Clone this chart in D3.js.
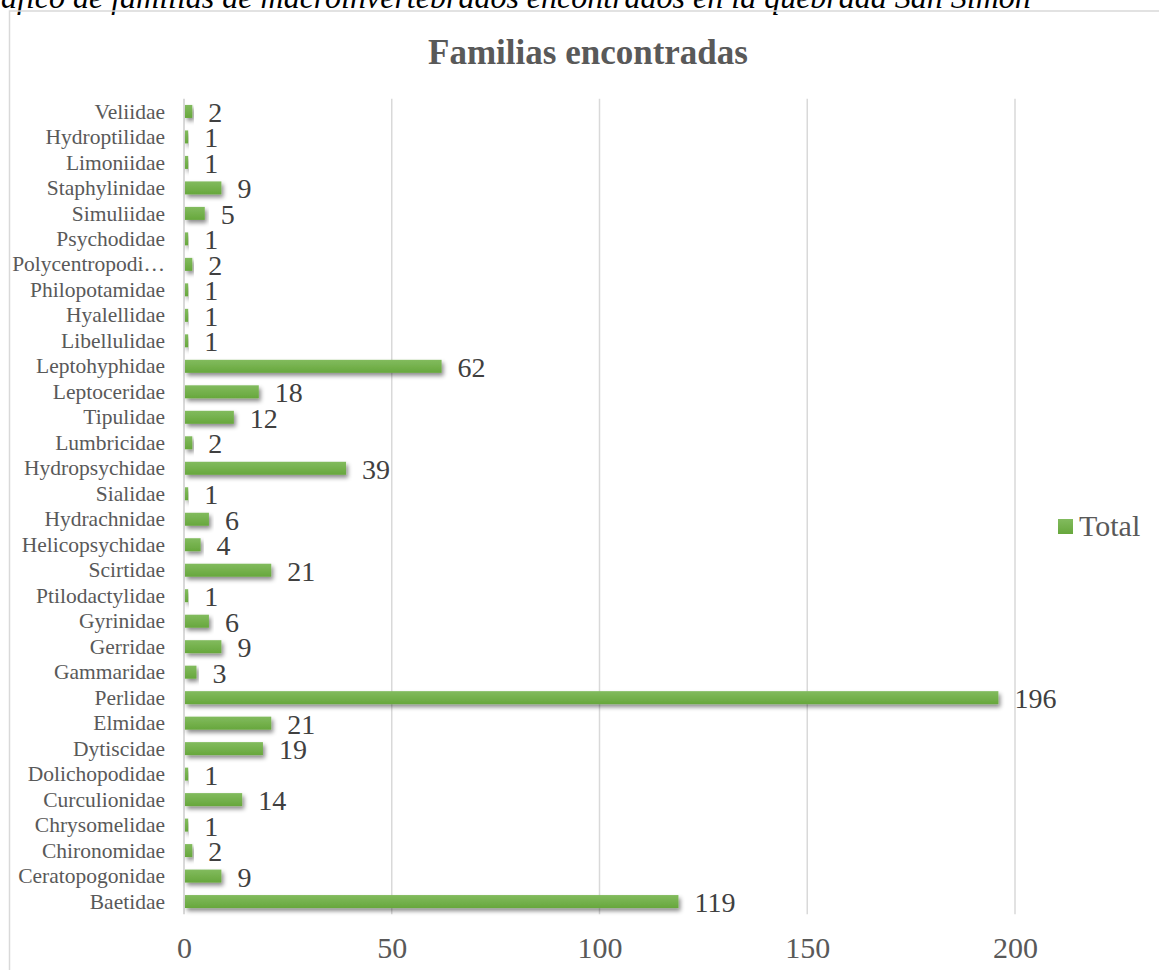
<!DOCTYPE html>
<html>
<head>
<meta charset="utf-8">
<script src="https://cdn.jsdelivr.net/npm/d3@7"></script>
<style>
  body { margin: 0; background: #fff; }
  svg { display: block; font-family: "Liberation Serif", "Times New Roman", serif; }
</style>
</head>
<body>
<div id="chart"></div>
<script>
// families, top to bottom as drawn
var families = ["Veliidae", "Hydroptilidae", "Limoniidae", "Staphylinidae", "Simuliidae",
    "Psychodidae", "Polycentropodi\u2026", "Philopotamidae", "Hyalellidae", "Libellulidae",
    "Leptohyphidae", "Leptoceridae", "Tipulidae", "Lumbricidae", "Hydropsychidae", "Sialidae",
    "Hydrachnidae", "Helicopsychidae", "Scirtidae", "Ptilodactylidae", "Gyrinidae", "Gerridae",
    "Gammaridae", "Perlidae", "Elmidae", "Dytiscidae", "Dolichopodidae", "Curculionidae",
    "Chrysomelidae", "Chironomidae", "Ceratopogonidae", "Baetidae"];
var totals = [2, 1, 1, 9, 5, 1, 2, 1, 1, 1, 62, 18, 12, 2, 39, 1, 6, 4, 21, 1, 6, 9, 3, 196,
    21, 19, 1, 14, 1, 2, 9, 119];
var xTicks = [0, 50, 100, 150, 200];

var caption = "áfico de familias de macroinvertebrados encontrados en la quebrada San Simón";
var chartTitle = "Familias encontradas";
var seriesName = "Total";

var W = 1159, H = 970;
var margin = {top: 98.7, left: 184, bottom: 914.3};

var svg = d3.select("#chart").append("svg")
    .attr("width", W)
    .attr("height", H);

var defs = svg.append("defs");
var grad = defs.append("linearGradient")
    .attr("id", "barGrad")
    .attr("x1", 0).attr("y1", 0).attr("x2", 0).attr("y2", 1);
grad.append("stop").attr("offset", "0%").attr("stop-color", "#82bb5e");
grad.append("stop").attr("offset", "100%").attr("stop-color", "#67a73c");

var shadow = defs.append("filter")
    .attr("id", "shadow")
    .attr("x", "-10%").attr("y", "-50%")
    .attr("width", "130%").attr("height", "250%");
shadow.append("feDropShadow")
    .attr("dx", 2).attr("dy", 3)
    .attr("stdDeviation", 2)
    .attr("flood-color", "#000")
    .attr("flood-opacity", 0.45);

//caption above the chart (cut at the top edge)
svg.append("text")
    .attr("x", 1)
    .attr("y", 8)
    .style("font-style", "italic")
    .style("font-size", "32px")
    .attr("fill", "#000")
    .text(caption);

//chart border
svg.append("path")
    .attr("d", "M9.5," + H + "V11H" + W)
    .attr("fill", "none")
    .attr("stroke", "#d9d9d9")
    .attr("stroke-width", 1.5);

//title
svg.append("text")
    .attr("x", 588)
    .attr("y", 64)
    .attr("text-anchor", "middle")
    .style("font-size", "35px")
    .style("font-weight", "bold")
    .attr("fill", "#595959")
    .text(chartTitle);

var x = d3.scaleLinear()
    .domain([0, 200])
    .range([margin.left, 1015]);

var y = d3.scaleBand()
    .domain(families)
    .range([margin.top, margin.bottom])
    .paddingInner(0.5)
    .paddingOuter(0.25);

//gridlines
svg.append("g")
    .selectAll("line")
    .data(xTicks)
    .enter().append("line")
    .attr("x1", function(d){ return x(d); })
    .attr("x2", function(d){ return x(d); })
    .attr("y1", margin.top)
    .attr("y2", margin.bottom)
    .attr("stroke", "#d9d9d9")
    .attr("stroke-width", function(d){ return d == 0 ? 2 : 1.5; });

//x tick labels
var xAxis = d3.axisBottom(x).tickValues(xTicks).tickSize(0).tickPadding(0);
var gx = svg.append("g")
    .attr("transform", "translate(0,958)")
    .call(xAxis);
gx.select(".domain").remove();
gx.selectAll("text")
    .attr("dy", 0)
    .attr("y", 0)
    .style("font-family", "Liberation Serif, serif")
    .style("font-size", "30px")
    .attr("fill", "#595959");

//category labels
var yAxis = d3.axisLeft(y).tickSize(0).tickPadding(0);
var gy = svg.append("g")
    .attr("transform", "translate(165,0)")
    .call(yAxis);
gy.select(".domain").remove();
gy.selectAll("text")
    .attr("dy", "0.33em")
    .style("font-family", "Liberation Serif, serif")
    .style("font-size", "21.5px")
    .attr("fill", "#595959");

var rows = families.map(function(d, i){
    return {name: d, value: totals[i]};
});

//bars
svg.append("g")
    .selectAll("rect")
    .data(rows)
    .enter().append("rect")
    .attr("x", x(0) + 1)
    .attr("y", function(d){ return y(d.name) + (y.bandwidth() - 13) / 2; })
    .attr("width", function(d){ return x(d.value) - x(0) - 1; })
    .attr("height", 13)
    .attr("fill", "url(#barGrad)")
    .attr("filter", "url(#shadow)");

//data labels
svg.append("g")
    .selectAll("text")
    .data(rows)
    .enter().append("text")
    .attr("x", function(d){ return x(d.value) + 16; })
    .attr("y", function(d){ return y(d.name) + y.bandwidth() / 2 + 10.5; })
    .style("font-size", "28px")
    .attr("fill", "#404040")
    .text(function(d){ return d.value; });

//legend
var legend = svg.append("g")
    .attr("transform", "translate(1058,519)");
legend.append("rect")
    .attr("x", 0)
    .attr("y", 0)
    .attr("width", 15)
    .attr("height", 15)
    .attr("fill", "url(#barGrad)");
legend.append("text")
    .attr("x", 21)
    .attr("y", 17)
    .style("font-size", "30px")
    .attr("fill", "#595959")
    .text(seriesName);
</script>
</body>
</html>
